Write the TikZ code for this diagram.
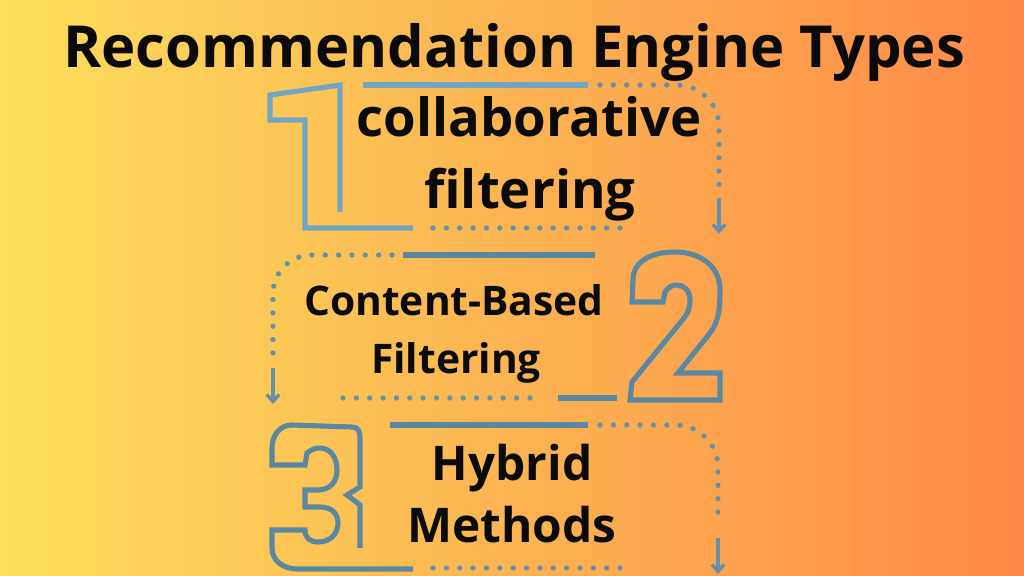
\documentclass[tikz,border=0pt]{standalone}
\usepackage{fontspec}
\setmainfont{Open Sans}
\usepackage{tikz}
\usetikzlibrary{arrows.meta}
\definecolor{bgl}{RGB}{254,222,92}
\definecolor{bgm}{RGB}{252,180,82}
\definecolor{bgr}{RGB}{255,137,72}
\definecolor{blueA}{HTML}{72A5C2}
\definecolor{blueB}{HTML}{5A87A2}
\definecolor{dotc}{HTML}{6690A8}
\definecolor{ink}{HTML}{0A0A0A}
\pgfdeclarehorizontalshading{bgshade}{100bp}{color(0bp)=(bgl); color(25bp)=(bgl); color(50bp)=(bgm); color(75bp)=(bgr); color(100bp)=(bgr)}
\tikzset{
  numA/.style={draw=blueA, line width=2.9pt, line cap=butt, line join=miter},
  numB/.style={draw=blueB, line width=2.9pt, line cap=butt, line join=miter},
  dots/.style={draw=dotc, line width=3pt, line cap=round, dash pattern=on 0pt off 7.6pt},
  down/.style={draw=dotc, line width=1.9pt, -{Straight Barb[length=4pt,width=7pt]}},
  title/.style={text=ink, font=\bfseries\fontsize{33}{36}\selectfont, anchor=base},
  lab/.style={text=ink, font=\bfseries\fontsize{30}{34}\selectfont, anchor=base},
  labc/.style={text=ink, font=\bfseries\fontsize{23.2}{27}\selectfont, anchor=base},
  labh/.style={text=ink, font=\bfseries\fontsize{27.2}{31}\selectfont, anchor=base},
}
\begin{document}
\begin{tikzpicture}[x=0.02cm, y=-0.02cm]
  \shade[shading=bgshade] (0,0) rectangle (1024,575);
  \useasboundingbox (0,0) rectangle (1024,575);
  % title
  \node[title] (head) at (514,67) {Recommendation Engine Types};

  % first type
  \draw[numA] (340,212) -- (340,85) -- (270,95) -- (270,120) -- (305,120)
    -- (305,228) -- (413,228);
  \draw[numA] (363,85) -- (588,85);
  \draw[dots] (433,228) -- (627,228);
  \draw[dots, rounded corners=24pt] (600,85) -| (719,188);
  \coordinate (a1) at (719,198);
  \coordinate (a2) at (719,234);
  \draw[down] (a1) -- (a2);
  \node[lab] (colab1) at (529,136) {collaborative};
  \node[lab] (colab2) at (530,208) {filtering};

  % second type
  \draw[numB] (403,255) -- (595,255);
  \draw[numB] (558,398) -- (617,398);
  \draw[dots] (343,398) -- (537,398);
  \draw[dots, rounded corners=22pt] (392,255) -| (273,355);
  \coordinate (b1) at (273,368);
  \coordinate (b2) at (273,404);
  \draw[down] (b1) -- (b2);
  \draw[numB] (630,400) -- (720,400) -- (720,373) -- (678,373) -- (710,333)
    .. controls (718,322) and (720,312) .. (720,290)
    .. controls (720,266) and (700,252) .. (675,252)
    .. controls (650,252) and (633,262) .. (633,280)
    -- (632,302) -- (663,302) -- (665,292)
    .. controls (668,287) and (672,285) .. (677,285)
    .. controls (684,285) and (690,291) .. (690,300)
    .. controls (690,308) and (688,313) .. (684,318)
    -- (632,382) -- cycle;
  \node[labc] (cont1) at (454,315) {Content-Based};
  \node[labc] (cont2) at (456,373) {Filtering};

  % third type
  \draw[numB] (390,425) -- (588,425);
  \draw[dots] (433,568) -- (627,568);
  \draw[dots, rounded corners=24pt] (600,425) -| (718,525);
  \coordinate (c1) at (718,538);
  \coordinate (c2) at (718,574);
  \draw[down] (c1) -- (c2);
  \draw[numB] (360,548) -- (360,505) -- (347,495) -- (360,487) -- (360,438)
    .. controls (360,431) and (358,427) .. (352,427)
    -- (292,425) .. controls (280,425) and (272,435) .. (272,448)
    -- (272,465) -- (305,465) -- (307,453)
    .. controls (312,449) and (316,448) .. (320,448)
    .. controls (330,448) and (337,457) .. (337,470)
    .. controls (337,482) and (330,490) .. (318,490)
    -- (305,490) -- (305,507) -- (320,507)
    .. controls (332,507) and (338,514) .. (338,523)
    .. controls (338,534) and (330,542) .. (318,542)
    .. controls (310,542) and (305,538) .. (305,530)
    -- (272,530) -- (272,548)
    .. controls (272,560) and (282,569) .. (298,569)
    -- (413,569);
  \node[labh] (hyb1) at (512,480) {Hybrid};
  \node[labh] (hyb2) at (512,542) {Methods};
\end{tikzpicture}
\end{document}
